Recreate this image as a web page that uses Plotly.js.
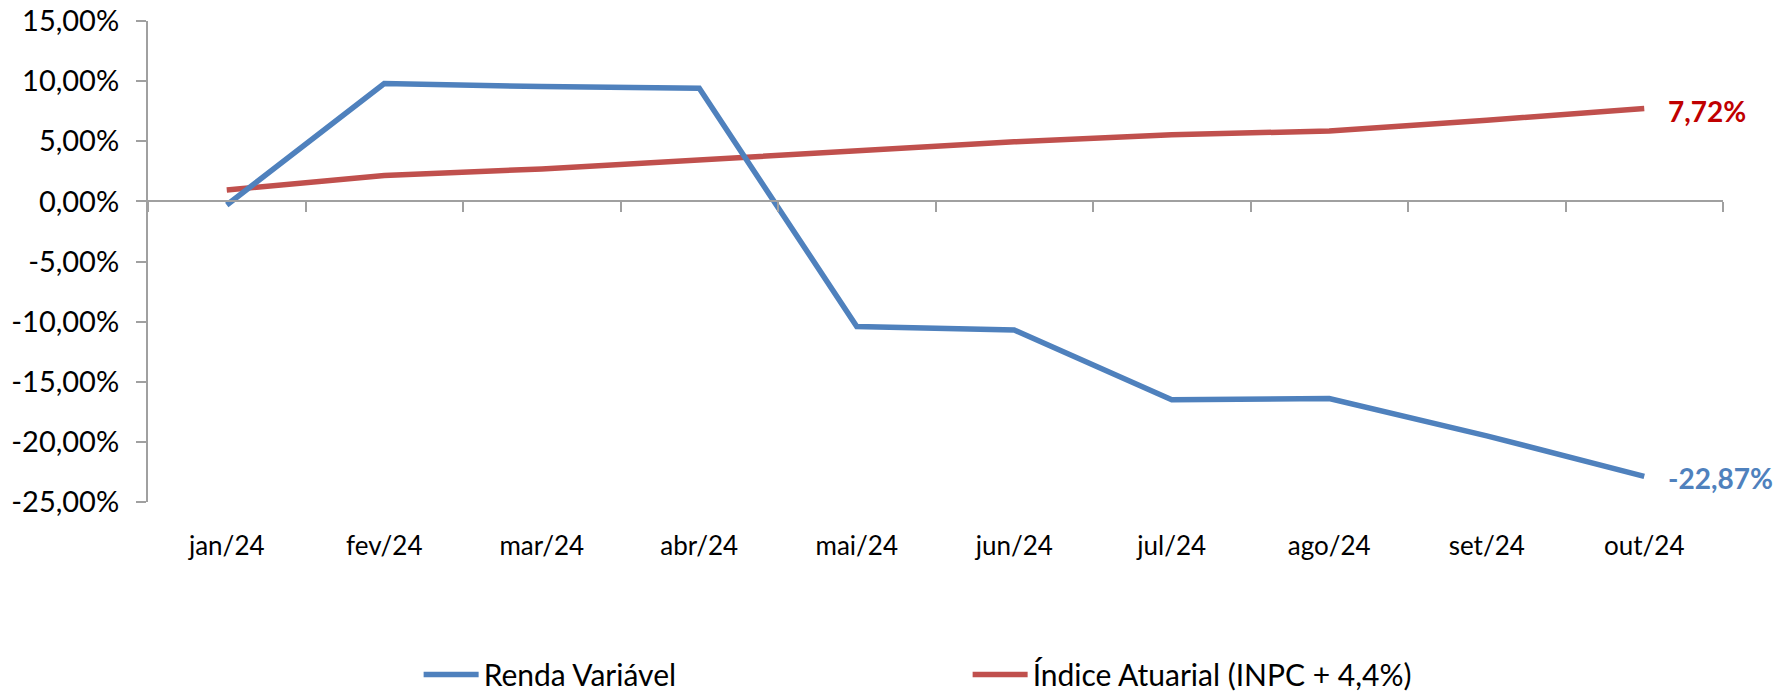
<!DOCTYPE html>
<html>
<head>
<meta charset="utf-8">
<script src="https://cdn.plot.ly/plotly-3.0.1.min.js"></script>
<style>
  html, body { margin: 0; padding: 0; background: #ffffff; }
  #chart { width: 1789px; height: 691px; }
</style>
</head>
<body>
<div id="chart"></div>
<script>
const categories = ['jan/24', 'fev/24', 'mar/24', 'abr/24', 'mai/24', 'jun/24', 'jul/24', 'ago/24', 'set/24', 'out/24'];
const rendaVariavel = [-0.30, 9.80, 9.55, 9.40, -10.40, -10.70, -16.50, -16.40, -19.50, -22.87];
const indiceAtuarial = [0.95, 2.15, 2.70, 3.45, 4.30, 4.95, 5.55, 5.85, 6.75, 7.72];
const seriesNames = ['Renda Variável', 'Índice Atuarial (INPC + 4,4%)'];
const yTicks = [-25, -20, -15, -10, -5, 0, 5, 10, 15];

const fmtPct = v => v.toFixed(2).replace('.', ',') + '%';
const FONT = 'Lato, "Liberation Sans", sans-serif';
const BLUE = '#4F81BD', RED = '#C0504D', AXIS = '#A0A0A0';
const yMin = -25, yMax = 15;
const zeroPos = (0 - yMin) / (yMax - yMin);

const traces = [
  { type: 'scatter', mode: 'lines', name: seriesNames[0], x: categories, y: rendaVariavel,
    xaxis: 'x2', yaxis: 'y', line: { color: BLUE, width: 5.5 } },
  { type: 'scatter', mode: 'lines', name: seriesNames[1], x: categories, y: indiceAtuarial,
    xaxis: 'x', yaxis: 'y', line: { color: RED, width: 5.5 } }
];

const lastIdx = categories.length - 1;
const layout = {
  width: 1789, height: 691,
  paper_bgcolor: '#ffffff', plot_bgcolor: '#ffffff',
  margin: { l: 148, r: 66, t: 21, b: 189 },
  font: { family: FONT, size: 26, color: '#000000' },
  showlegend: true,
  legend: {
    orientation: 'h', xref: 'container', yref: 'container',
    x: 0.234, xanchor: 'left', y: 0.024, yanchor: 'middle',
    font: { family: FONT, size: 30, color: '#000000' },
    entrywidth: 479, entrywidthmode: 'pixels', itemwidth: 55
  },
  xaxis: {
    type: 'category', categoryarray: categories, range: [-0.5, categories.length - 0.5],
    anchor: 'free', position: zeroPos,
    showline: true, linecolor: AXIS, linewidth: 2,
    ticks: 'outside', tickson: 'boundaries', ticklen: 10, tickcolor: AXIS, tickwidth: 2,
    showticklabels: false, showgrid: false, zeroline: false, fixedrange: true
  },
  xaxis2: {
    type: 'category', categoryarray: categories, range: [-0.5, categories.length - 0.5],
    overlaying: 'x', anchor: 'y', side: 'bottom',
    showline: false, ticks: '', showgrid: false, zeroline: false,
    tickfont: { family: FONT, size: 26, color: '#000000' }, ticklabelstandoff: 26
  },
  yaxis: {
    range: [yMin, yMax], tickvals: yTicks, ticktext: yTicks.map(fmtPct),
    showline: true, linecolor: AXIS, linewidth: 2,
    ticks: 'outside', ticklen: 10, tickcolor: AXIS, tickwidth: 2,
    showgrid: false, zeroline: false,
    tickfont: { family: FONT, size: 29, color: '#000000' }, ticklabelstandoff: 11
  },
  annotations: [
    { x: categories[lastIdx], y: indiceAtuarial[lastIdx], xref: 'x', yref: 'y',
      text: '<b>' + fmtPct(indiceAtuarial[lastIdx]) + '</b>', showarrow: false,
      xanchor: 'left', yanchor: 'middle', xshift: 22, yshift: -2,
      font: { family: FONT, size: 28, color: '#C00000' } },
    { x: categories[lastIdx], y: rendaVariavel[lastIdx], xref: 'x', yref: 'y',
      text: '<b>' + fmtPct(rendaVariavel[lastIdx]) + '</b>', showarrow: false,
      xanchor: 'left', yanchor: 'middle', xshift: 22, yshift: -2,
      font: { family: FONT, size: 28, color: BLUE } }
  ]
};

Plotly.newPlot('chart', traces, layout, { displayModeBar: false, staticPlot: true });
</script>
</body>
</html>
